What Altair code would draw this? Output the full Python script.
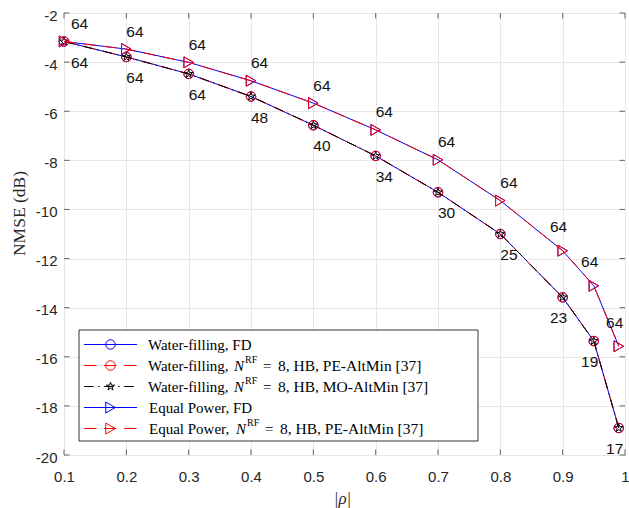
import altair as alt
import pandas as pd

# ---------------- data ----------------
rho = [0.1, 0.2, 0.3, 0.4, 0.5, 0.6, 0.7, 0.8, 0.9, 0.95, 0.99]
wf_nmse = [-3.16, -3.79, -4.48, -5.40, -6.57, -7.82, -9.30, -11.00, -13.58, -15.36, -18.90]
ep_nmse = [-3.16, -3.47, -4.01, -4.76, -5.67, -6.76, -7.98, -9.64, -11.68, -13.11, -15.57]
wf_labels = ["64", "64", "64", "48", "40", "34", "30", "25", "23", "19", "17"]
ep_labels = ["64", "64", "64", "64", "64", "64", "64", "64", "64", "64", "64"]
x_ticks = [0.1, 0.2, 0.3, 0.4, 0.5, 0.6, 0.7, 0.8, 0.9, 1.0]
y_ticks = [-20, -18, -16, -14, -12, -10, -8, -6, -4, -2]

legend_prefix = ["Water-filling, FD", "Water-filling,", "Water-filling,",
                 "Equal Power, FD", "Equal Power,"]
legend_suffix = ["", "8, HB, PE-AltMin [37]", "8, HB, MO-AltMin [37]",
                 "", "8, HB, PE-AltMin [37]"]

# ---------------- styles ----------------
W, H = 561, 442
BLUE, RED, BLACK = "#0000ff", "#ff0000", "#000000"
AXC = "#666666"
STAR = ("M0,-1L0.2245,-0.309L0.9511,-0.309L0.3633,0.118L0.5878,0.809L0,0.382"
        "L-0.5878,0.809L-0.3633,0.118L-0.9511,-0.309L-0.2245,-0.309Z")
DASH = [12.5, 7.5]
DASHDOT = [9.6, 4.5, 1.5, 4.5]

series = [
    (wf_nmse, BLUE, None, "circle", 90),
    (wf_nmse, RED, DASH, "circle", 90),
    (wf_nmse, BLACK, DASHDOT, STAR, 75),
    (ep_nmse, BLUE, None, "triangle-right", 120),
    (ep_nmse, RED, DASH, "triangle-right", 120),
]

xs = alt.Scale(domain=[0.1, 1.0], nice=False, zero=False)
ys = alt.Scale(domain=[-20, -2], nice=False, zero=False)

x_axis = alt.Axis(
    values=x_ticks, labelExpr="'' + datum.value", grid=True, gridColor="#e6e6e6",
    gridWidth=1, domain=False, ticks=False, tickSize=0, labelFont="Liberation Sans",
    labelFontSize=15, labelColor="#262626", labelPadding=14, labelFlush=False,
    labelOverlap=False, title="|ρ|", titleFont="Liberation Serif", titleFontStyle="italic",
    titleFontSize=17, titleFontWeight="normal", titleColor="#262626",
    titleX=278, titleY=48, titleBaseline="alphabetic", titleAlign="center")
y_axis = alt.Axis(
    values=y_ticks, labelExpr="'' + datum.value", grid=True, gridColor="#e6e6e6",
    gridWidth=1, domain=False, ticks=False, tickSize=0, labelFont="Liberation Sans",
    labelFontSize=15, labelColor="#262626", labelPadding=7, labelOffset=2,
    labelFlush=False, labelOverlap=False, title="NMSE (dB)",
    titleFont="Liberation Serif", titleFontSize=17.5, titleFontWeight="normal",
    titleColor="#262626", titleX=-40, titleY=200, titleAngle=270,
    titleBaseline="alphabetic", titleAlign="center")


def X():
    return alt.X("rho:Q", scale=xs, axis=x_axis)


def Y():
    return alt.Y("nmse:Q", scale=ys, axis=y_axis)


layers = []
for vals, color, dash, shape, size in series:
    df = pd.DataFrame({"rho": rho, "nmse": vals})
    base = alt.Chart(df).encode(x=X(), y=Y())
    lk = dict(color=color, strokeWidth=1)
    if dash:
        lk["strokeDash"] = dash
    layers.append(base.mark_line(**lk))
    layers.append(base.mark_point(shape=shape, size=size, filled=False, color=color,
                                  strokeWidth=1, opacity=1))

# number annotations
ep_df = pd.DataFrame({"rho": rho, "nmse": ep_nmse, "lab": ep_labels})
wf_df = pd.DataFrame({"rho": rho, "nmse": wf_nmse, "lab": wf_labels})
xshift = "datum.rho + (datum.rho < 0.15 ? 0.0112 : (datum.rho > 0.85 ? -0.0204 : 0))"
txt = dict(align="left", baseline="middle", font="Liberation Sans", fontSize=15.5,
           color="#111111")
layers.append(
    alt.Chart(ep_df)
    .transform_calculate(nmse="datum.nmse + (datum.rho > 0.85 ? 0.96 : 0.71)")
    .transform_calculate(rho=xshift)
    .mark_text(**txt)
    .encode(x=X(), y=Y(), text="lab:N"))
layers.append(
    alt.Chart(wf_df)
    .transform_calculate(nmse="datum.nmse - 0.86")
    .transform_calculate(rho=xshift)
    .mark_text(**txt)
    .encode(x=X(), y=Y(), text="lab:N"))

# inward ticks on all four sides
xt = pd.DataFrame({"rho": x_ticks})
yt = pd.DataFrame({"nmse": y_ticks})
TL = 5.5
layers.append(alt.Chart(xt).mark_rule(color=AXC, strokeWidth=1)
              .encode(x=X(), y=alt.value(H), y2=alt.value(H - TL)))
layers.append(alt.Chart(xt).mark_rule(color=AXC, strokeWidth=1)
              .encode(x=X(), y=alt.value(0), y2=alt.value(TL)))
layers.append(alt.Chart(yt).mark_rule(color=AXC, strokeWidth=1)
              .encode(y=Y(), x=alt.value(0), x2=alt.value(TL)))
layers.append(alt.Chart(yt).mark_rule(color=AXC, strokeWidth=1)
              .encode(y=Y(), x=alt.value(W), x2=alt.value(W - TL)))

# ---------------- legend ----------------
one = pd.DataFrame({"k": [0]})
layers.append(alt.Chart(one).mark_rect(fill="white", stroke="#333333", strokeWidth=1)
              .encode(x=alt.value(15), x2=alt.value(414), y=alt.value(317), y2=alt.value(428)))
row_y = [331.5, 352.5, 373.5, 394.5, 415.5]
ltxt = dict(align="left", baseline="alphabetic", font="Liberation Serif", fontSize=15,
            color="#000000")
for i, (vals, color, dash, shape, size) in enumerate(series):
    ry = row_y[i]
    rk = dict(color=color, strokeWidth=1)
    if dash:
        rk["strokeDash"] = dash
    layers.append(alt.Chart(one).mark_rule(**rk)
                  .encode(x=alt.value(20), x2=alt.value(73), y=alt.value(ry)))
    layers.append(alt.Chart(one).mark_point(shape=shape, size=size, filled=False,
                                            color=color, strokeWidth=1, opacity=1)
                  .encode(x=alt.value(46.5), y=alt.value(ry)))
    x0 = 84 if i < 3 else 85
    layers.append(alt.Chart(one).mark_text(text=legend_prefix[i], **ltxt)
                  .encode(x=alt.value(x0), y=alt.value(ry + 5)))
    if legend_suffix[i]:
        nx = 170 if i < 3 else 172
        layers.append(alt.Chart(one).mark_text(text="N", fontStyle="italic", **ltxt)
                      .encode(x=alt.value(nx), y=alt.value(ry + 5)))
        sk = dict(ltxt)
        sk["fontSize"] = 10
        layers.append(alt.Chart(one).mark_text(text="RF", **sk)
                      .encode(x=alt.value(nx + 11), y=alt.value(ry - 3)))
        layers.append(alt.Chart(one).mark_text(text="=", **ltxt)
                      .encode(x=alt.value(nx + 29), y=alt.value(ry + 5)))
        wk = dict(ltxt)
        wk["fontSize"] = 15.5
        layers.append(alt.Chart(one).mark_text(text=legend_suffix[i], **wk)
                      .encode(x=alt.value(nx + 44), y=alt.value(ry + 5)))

chart = (
    alt.layer(*layers)
    .properties(width=W, height=H,
                padding={"left": 64, "top": 13, "right": 4, "bottom": 53},
                autosize=alt.AutoSizeParams(type="none"),
                background="white")
    .configure_view(stroke=AXC, strokeWidth=1)
)

chart.save("out.html", embed_options={"renderer": "svg", "actions": False})
